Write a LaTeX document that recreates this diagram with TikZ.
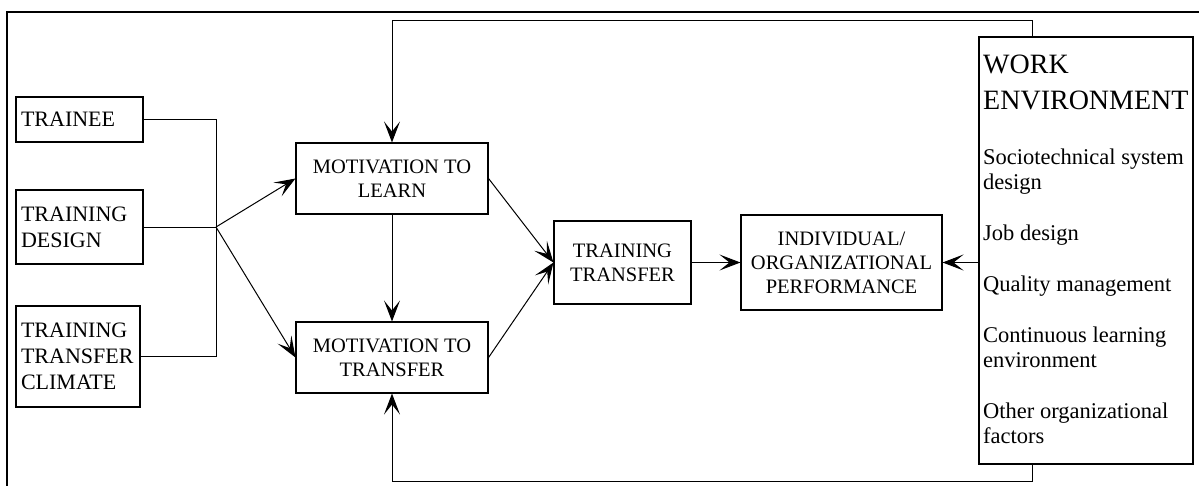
\documentclass[tikz,border=0pt]{standalone}
\usepackage{fontspec}
\setmainfont{Liberation Serif}
\usetikzlibrary{arrows.meta}

\begin{document}
\begin{tikzpicture}[x=1pt,y=-1pt,
    box/.style={draw, line width=1.1pt, inner sep=0pt, align=center,
      font=\fontsize{20.5}{24}\selectfont},
    sidebox/.style={draw, line width=1.1pt, inner xsep=5pt, inner ysep=0pt, align=left,
      font=\fontsize{22}{26}\selectfont},
    link/.style={line width=1pt},
    arr/.style={link, -{Stealth[length=21pt, width=16pt, inset=10pt]}}]
	\useasboundingbox (0,0) rectangle (1199,485);
	\draw[line width=2pt] (7,495) -- (7,12) -- (1210,12);
	% input factors
	\node[sidebox, minimum height=45pt, text width=117pt] (trainee) at (79.5,119.5) {TRAINEE};
	\node[sidebox, minimum height=74pt, text width=117pt] (design) at (79.5,227) {TRAINING\\DESIGN};
	\node[sidebox, minimum height=101pt, text width=114pt] (climate) at (78,356.5) {TRAINING\\TRANSFER\\CLIMATE};
	% motivation and outcomes
	\node[box, minimum width=192pt, minimum height=71pt] (learn) at (392,178.5) {MOTIVATION TO\\LEARN};
	\node[box, minimum width=192pt, minimum height=71pt] (transfer) at (392,357.5) {MOTIVATION TO\\TRANSFER};
	\node[box, minimum width=137pt, minimum height=83pt] (tt) at (622.5,262.5) {TRAINING\\TRANSFER};
	\node[box, minimum width=201pt, minimum height=95pt] (perf) at (841.5,262.5) {INDIVIDUAL/\\ORGANIZATIONAL\\PERFORMANCE};
	% work environment
	\node[draw, line width=1.1pt, minimum width=214pt, minimum height=427pt] (work) at (1086,250.5) {};
	\node[anchor=north west, inner sep=0pt, align=left, font=\fontsize{28}{36}\selectfont] (worktitle) at (983,55) {WORK\\ENVIRONMENT};
	\node[anchor=north west, inner sep=0pt, align=left, font=\fontsize{22.5}{25}\selectfont] (worklist) at (983,149)
		{Sociotechnical system\\design\\[26pt]Job design\\[26pt]Quality management\\[26pt]Continuous learning\\environment\\[26pt]Other organizational\\factors};
	% connectors
	\coordinate (hub) at (216,227);
	\draw[link] (trainee.east) -| (hub);
	\draw[link] (climate.east) -| (hub);
	\draw[link] (design.east) -- (hub);
	\draw[arr] (hub) -- (learn.west);
	\draw[arr] (hub) -- (transfer.west);
	\draw[arr] (learn) -- (transfer);
	\draw[arr] (learn.east) -- (tt.west);
	\draw[arr] (transfer.east) -- (tt.west);
	\draw[arr] (tt) -- (perf);
	\draw[arr] (work.west |- perf) -- (perf.east);
	\draw[arr] ([xshift=-54pt]work.north) -- ++(0,-16) -| (learn.north);
	\draw[arr] ([xshift=-54pt]work.south) -- ++(0,17) -| (transfer.south);
\end{tikzpicture}
\end{document}
